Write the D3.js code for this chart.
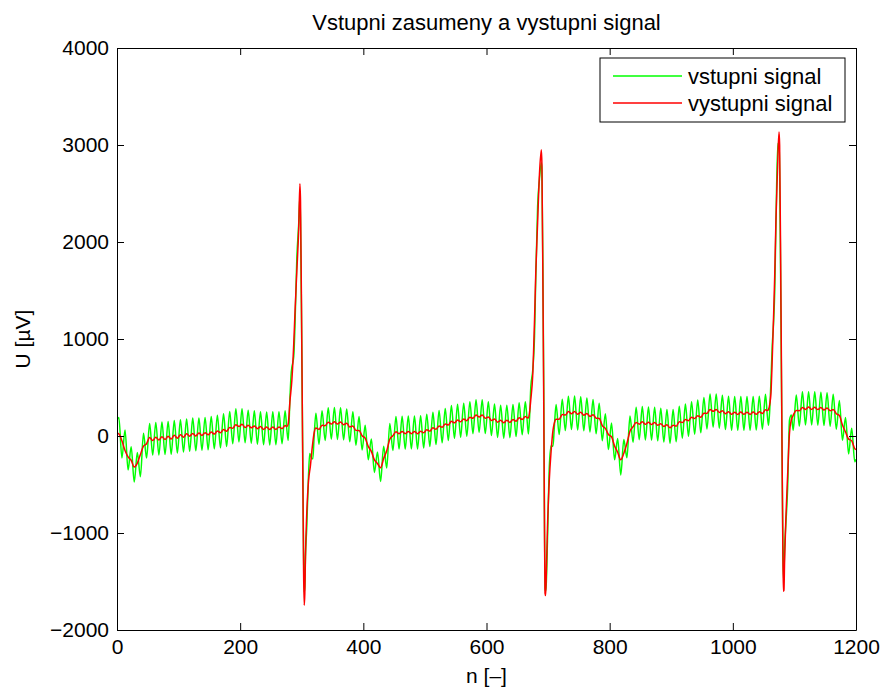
<!DOCTYPE html>
<html>
<head>
<meta charset="utf-8">
<script src="https://cdn.jsdelivr.net/npm/d3@7"></script>
<style>
  body { margin: 0; background: #fff; }
  svg { display: block; }
  text { font-family: "Liberation Sans", Arial, Helvetica, sans-serif; fill: #000; }
</style>
</head>
<body>
<svg id="chart" width="882" height="688"></svg>
<script>
// Axis ranges and tick labels
const xDomain = [0, 1200];
const yDomain = [-2000, 4000];
const xTicks = [0, 200, 400, 600, 800, 1000, 1200];
const yTicks = [-2000, -1000, 0, 1000, 2000, 3000, 4000];
const seriesNames = ["vstupni signal", "vystupni signal"];
const seriesColors = ["#00ff00", "#ff0000"];
const titleText = "Vstupni zasumeny a vystupni signal";
const xLabel = "n [\u2013]";
const yLabel = "U [\u00b5V]";

// Noisy input ECG: [sample, microvolts], peaks and troughs of the 50 Hz hum plus QRS detail
const vstupni = [
  [0,165],[3,190],[8,-227],[13,62],[18,-350],[23,-110],[28,-475],[33,-170],[38,-420],[43,28],[48,-227],[53,130],[58,-196],
  [63,140],[68,-195],[73,145],[78,-190],[83,150],[88,-188],[93,160],[98,-175],[103,168],[108,-165],[113,175],[118,-158],
  [123,185],[128,-153],[133,186],[138,-147],[143,192],[148,-143],[153,200],[158,-133],[163,215],[168,-123],[173,230],
  [178,-108],[183,253],[188,-80],[193,280],[198,-60],[203,280],[208,-70],[213,266],[218,-74],[223,260],[228,-84],
  [233,250],[238,-90],[243,248],[248,-92],[253,250],[258,-90],[263,250],[268,-80],[273,260],
  [276,50],[278,-45],[281,420],[283,660],[284,710],[287,820],[289,1140],[292,1830],[295,2180],[297,2470],[298,2240],
  [300,950],[302,-470],[303,-1240],[304,-1610],[305,-1550],[306,-1250],[308,-960],[311,-400],[313,-180],[316,-230],
  [318,-235],[320,-20],
  [323,235],[328,-85],[333,260],[338,-47],[343,290],[348,-33],[353,295],[358,-35],[363,292],[368,-40],[373,278],
  [378,-60],[383,250],[388,-95],[393,200],[398,-145],[403,110],[408,-245],[413,-30],[418,-375],[423,-165],[428,-470],
  [433,-105],[438,-330],[443,130],[448,-150],[453,202],[458,-135],[463,203],[468,-135],[473,205],[478,-133],[483,205],
  [488,-134],[493,208],[498,-123],[503,224],[508,-108],[513,244],[518,-88],[523,264],[528,-70],[533,284],[538,-47],
  [543,315],[548,-24],[553,327],[558,-14],[563,338],[568,-2],[573,354],[578,25],[583,375],[588,38],[593,373],[598,25],
  [603,353],[608,4],[613,330],[618,-15],[623,318],[628,-22],[633,318],[638,-18],[643,326],[648,-5],[653,343],[658,12],
  [663,353],
  [665,243],[668,20],[670,199],[672,513],[675,671],[678,1035],[680,1630],[683,2365],[686,2650],[689,2817],[690,2750],
  [692,1333],[693,465],[694,-667],[695,-1570],[696,-1600],[697,-1530],[699,-1083],[702,-317],[705,-100],[708,-105],
  [710,79],
  [713,325],[718,15],[723,380],[728,56],[733,410],[738,67],[743,412],[748,61],[753,404],[758,54],[763,392],[768,42],
  [773,376],[778,24],[783,338],[788,-48],[793,230],[798,-140],[803,135],[808,-245],[813,-25],[818,-402],[823,-35],
  [828,-225],[833,205],[838,-65],[843,296],[848,-38],[853,305],[858,-40],[863,300],[868,-42],[873,297],[878,-50],
  [883,285],[888,-62],[893,273],[898,-76],[903,272],[908,-60],[913,307],[918,-22],[923,330],[928,-2],[933,354],
  [938,20],[943,370],[948,33],[953,397],[958,73],[963,434],[968,91],[973,434],[978,80],[983,420],[988,67],[993,410],
  [998,60],[1003,406],[1008,59],[1013,407],[1018,60],[1023,406],[1028,59],[1033,407],[1038,61],[1043,410],[1048,70],
  [1053,430],
  [1056,211],[1058,110],[1060,279],[1062,583],[1064,933],[1066,1149],[1068,1485],[1070,2179],[1073,3015],[1075,3000],
  [1076,2750],[1078,1335],[1080,-251],[1081,-949],[1082,-1467],[1083,-1425],[1084,-1167],[1086,-921],[1089,-533],
  [1092,163],[1095,216],[1098,60],
  [1103,422],[1108,102],[1113,455],[1118,114],[1123,457],[1128,114],[1133,455],[1138,112],[1143,452],[1148,108],
  [1153,445],[1158,100],[1163,430],[1168,70],[1173,365],[1178,-45],[1183,190],[1188,-185],[1193,80],[1198,-265],
  [1200,-240]
];

// Filtered output ECG: [sample, microvolts]
const vystupni = [
  [0,30],[3,22],[8,-50],[13,-150],[18,-215],[23,-250],[28,-320],[33,-280],[38,-190],[43,-105],[48,-80],[53,-15],
  [58,-47],[63,-13],[68,-42],[73,-8],[78,-37],[83,-3],[88,-32],[93,7],[98,-22],[103,12],[108,-12],[113,22],[118,-2],
  [123,27],[128,0],[133,30],[138,6],[143,34],[148,13],[153,40],[158,20],[163,52],[168,33],[173,67],[178,50],[183,87],
  [188,80],[193,117],[198,98],[203,120],[208,88],[213,110],[218,84],[223,104],[228,76],[233,97],[238,68],[243,92],
  [248,66],[253,92],[258,68],[263,94],[268,76],[273,107],
  [276,98],[278,125],[281,370],[284,580],[287,950],[289,1270],[292,1700],[295,2130],[297,2600],[298,2420],[300,1000],
  [302,-600],[303,-1400],[304,-1745],[305,-1620],[306,-1250],[308,-820],[311,-460],[314,-310],[317,-120],[320,30],
  [323,82],[328,68],[333,112],[338,106],[343,142],[348,123],[353,147],[358,123],[363,144],[368,116],[373,132],[378,93],
  [383,102],[388,58],[393,57],[398,3],[403,-23],[408,-107],[413,-158],[418,-247],[423,-283],[428,-327],[433,-233],
  [438,-152],[443,-33],[448,3],[453,44],[458,23],[463,47],[468,23],[473,47],[478,23],[483,47],[488,24],[493,50],
  [498,33],[503,64],[508,50],[513,84],[518,70],[523,104],[528,90],[533,124],[538,113],[543,152],[548,136],[553,164],
  [558,146],[563,175],[568,158],[573,194],[578,183],[583,217],[588,196],[593,217],[598,183],[603,197],[608,160],
  [613,174],[618,143],[623,162],[628,136],[633,162],[638,140],[643,170],[648,153],[653,187],[658,170],[663,200],
  [665,195],[668,185],[670,250],[672,380],[675,620],[678,1200],[680,1680],[683,2200],[686,2700],[689,2950],[690,2800],
  [692,1200],[693,300],[694,-800],[695,-1620],[696,-1645],[697,-1450],[699,-950],[702,-450],[705,-150],[708,60],
  [710,130],
  [713,172],[718,173],[723,222],[728,216],[733,252],[738,230],[743,252],[748,224],[753,244],[758,214],[763,232],
  [768,202],[773,218],[778,184],[783,180],[788,108],[793,78],[798,15],[803,-8],[808,-103],[813,-168],[818,-245],
  [823,-178],[828,-78],[833,50],[838,95],[843,140],[848,122],[853,147],[858,120],[863,142],[868,118],[873,139],
  [878,110],[883,127],[888,98],[893,115],[898,84],[903,112],[908,100],[913,147],[918,138],[923,170],[928,158],
  [933,194],[938,180],[943,210],[948,193],[953,234],[958,233],[963,274],[968,254],[973,274],[978,243],[983,260],
  [988,230],[993,250],[998,223],[1003,246],[1008,222],[1013,247],[1018,223],[1023,246],[1028,222],[1033,247],
  [1038,224],[1043,250],[1048,233],[1053,270],
  [1056,262],[1058,275],[1060,330],[1062,450],[1064,800],[1066,1200],[1068,1650],[1070,2230],[1073,2850],[1075,3135],
  [1076,3000],[1078,1500],[1080,-200],[1081,-1000],[1082,-1600],[1083,-1590],[1084,-1300],[1086,-870],[1089,-400],
  [1092,30],[1095,165],[1098,213],
  [1103,264],[1108,260],[1113,295],[1118,274],[1123,299],[1128,274],[1133,297],[1138,272],[1143,294],[1148,268],
  [1153,289],[1158,260],[1163,274],[1168,230],[1173,212],[1178,113],[1183,42],[1188,-32],[1193,-48],[1198,-132],
  [1200,-140]
];

// Layout
const plot = { left: 117, right: 856, top: 48, bottom: 630 };
const tickLen = 7;

const svg = d3.select("#chart");

const x = d3.scaleLinear().domain(xDomain).range([plot.left, plot.right]);
const y = d3.scaleLinear().domain(yDomain).range([plot.bottom, plot.top]);

svg.append("defs").append("clipPath").attr("id", "plotClip")
  .append("rect")
  .attr("x", plot.left).attr("y", plot.top)
  .attr("width", plot.right - plot.left).attr("height", plot.bottom - plot.top);

// Signal traces
const line = d3.line()
  .x(d => x(d[0]))
  .y(d => y(d[1]))
  .curve(d3.curveMonotoneX);

const traces = svg.append("g").attr("clip-path", "url(#plotClip)");
[vstupni, vystupni].forEach((series, i) => {
  traces.append("path")
    .datum(series)
    .attr("fill", "none")
    .attr("stroke", seriesColors[i])
    .attr("stroke-width", 1.5)
    .attr("stroke-linejoin", "round")
    .attr("d", line);
});

// Axes: labelled bottom/left, tick-only top/right, ticks pointing inward
const fmt = d3.format("d");
const styleAxis = g => {
  g.select(".domain").attr("stroke", "#000").attr("stroke-width", 1);
  g.selectAll(".tick line").attr("stroke", "#000").attr("stroke-width", 1);
  g.selectAll(".tick text").attr("font-size", 21).attr("fill", "#000")
    .attr("font-family", "\"Liberation Sans\", Arial, sans-serif");
};

svg.append("g")
  .attr("transform", `translate(0,${plot.bottom})`)
  .call(d3.axisBottom(x).tickValues(xTicks).tickFormat(fmt).tickSizeInner(-tickLen).tickSizeOuter(0).tickPadding(9))
  .call(styleAxis);

svg.append("g")
  .attr("transform", `translate(${plot.left},0)`)
  .call(d3.axisLeft(y).tickValues(yTicks).tickFormat(fmt).tickSizeInner(-tickLen).tickSizeOuter(0).tickPadding(8))
  .call(styleAxis);

svg.append("g")
  .attr("transform", `translate(0,${plot.top})`)
  .call(d3.axisTop(x).tickValues(xTicks).tickFormat("").tickSizeInner(-tickLen).tickSizeOuter(0))
  .call(styleAxis);

svg.append("g")
  .attr("transform", `translate(${plot.right},0)`)
  .call(d3.axisRight(y).tickValues(yTicks).tickFormat("").tickSizeInner(-tickLen).tickSizeOuter(0))
  .call(styleAxis);

// Title and axis labels
svg.append("text")
  .attr("x", (plot.left + plot.right) / 2).attr("y", 30)
  .attr("text-anchor", "middle").attr("font-size", 22)
  .text(titleText);

svg.append("text")
  .attr("x", (plot.left + plot.right) / 2).attr("y", 683)
  .attr("text-anchor", "middle").attr("font-size", 21)
  .text(xLabel);

svg.append("text")
  .attr("transform", `translate(23,${(plot.top + plot.bottom) / 2}) rotate(-90)`)
  .attr("text-anchor", "middle").attr("dy", "0.35em").attr("font-size", 21)
  .text(yLabel);

// Legend
const legend = svg.append("g").attr("transform", "translate(600,58)");
legend.append("rect")
  .attr("width", 245).attr("height", 64)
  .attr("fill", "#fff").attr("stroke", "#000").attr("stroke-width", 1);
seriesNames.forEach((name, i) => {
  const cy = 18 + i * 27;
  legend.append("line")
    .attr("x1", 13).attr("x2", 82).attr("y1", cy).attr("y2", cy)
    .attr("stroke", seriesColors[i]).attr("stroke-width", 1.5);
  legend.append("text")
    .attr("x", 88).attr("y", cy).attr("dy", "0.35em")
    .attr("font-size", 22)
    .text(name);
});
</script>
</body>
</html>
